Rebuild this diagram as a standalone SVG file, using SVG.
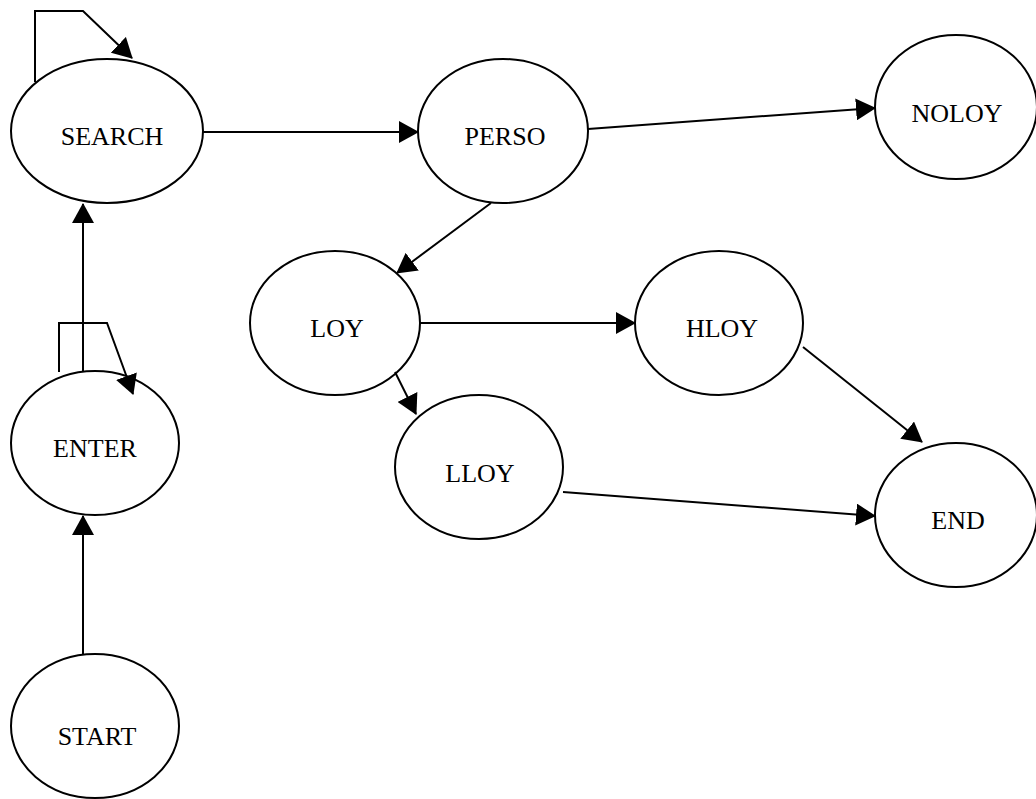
<svg xmlns="http://www.w3.org/2000/svg" width="1036" height="799" viewBox="0 0 1036 799">
  <style>
    .node ellipse { fill: #ffffff; stroke: #000000; stroke-width: 2; }
    .node text { font-family: "Liberation Serif", "Times New Roman", serif; font-size: 26px; fill: #000000; text-anchor: middle; }
    .edge { fill: none; stroke: #000000; stroke-width: 2; marker-end: url(#arrow); }
  </style>
  <defs>
    <marker id="arrow" markerUnits="userSpaceOnUse" viewBox="0 0 20 22" refX="19" refY="11" markerWidth="20" markerHeight="22" orient="auto">
      <path d="M0,0 L20,11 L0,22 Z" fill="#000000"/>
    </marker>
  </defs>
  <rect width="1036" height="799" fill="#ffffff"/>

  <g id="nodes">
    <g id="node-search" class="node">
      <ellipse cx="107" cy="131" rx="96" ry="72"/>
      <text x="112" y="145">SEARCH</text>
    </g>
    <g id="node-perso" class="node">
      <ellipse cx="503" cy="131" rx="85" ry="72"/>
      <text x="505" y="145">PERSO</text>
    </g>
    <g id="node-noloy" class="node">
      <ellipse cx="956" cy="107" rx="81" ry="72"/>
      <text x="957" y="122">NOLOY</text>
    </g>
    <g id="node-loy" class="node">
      <ellipse cx="335" cy="323" rx="85" ry="72"/>
      <text x="337" y="337">LOY</text>
    </g>
    <g id="node-hloy" class="node">
      <ellipse cx="719" cy="323" rx="84" ry="72"/>
      <text x="722" y="337">HLOY</text>
    </g>
    <g id="node-lloy" class="node">
      <ellipse cx="479" cy="467" rx="84" ry="72"/>
      <text x="480" y="482">LLOY</text>
    </g>
    <g id="node-end" class="node">
      <ellipse cx="956" cy="515" rx="81" ry="72"/>
      <text x="958" y="529">END</text>
    </g>
    <g id="node-enter" class="node">
      <ellipse cx="95" cy="443" rx="84" ry="72"/>
      <text x="95" y="457">ENTER</text>
    </g>
    <g id="node-start" class="node">
      <ellipse cx="95" cy="726" rx="84" ry="72"/>
      <text x="97" y="745">START</text>
    </g>
  </g>

  <g id="connectors">
    <polyline class="edge" points="35,82 35,11 83,11 132,58"/>
    <polyline class="edge" points="59,372 59,323 107,323 133,394"/>
    <line class="edge" x1="83" y1="371" x2="83" y2="204"/>
    <line class="edge" x1="83" y1="655" x2="83" y2="516"/>
    <line class="edge" x1="203" y1="132" x2="418" y2="132"/>
    <line class="edge" x1="588" y1="129" x2="875" y2="108"/>
    <line class="edge" x1="491" y1="203" x2="397" y2="273"/>
    <line class="edge" x1="420" y1="323" x2="635" y2="323"/>
    <line class="edge" x1="395" y1="372" x2="416" y2="414"/>
    <line class="edge" x1="803" y1="347" x2="922" y2="442"/>
    <line class="edge" x1="563" y1="492" x2="875" y2="516"/>
  </g>
</svg>
